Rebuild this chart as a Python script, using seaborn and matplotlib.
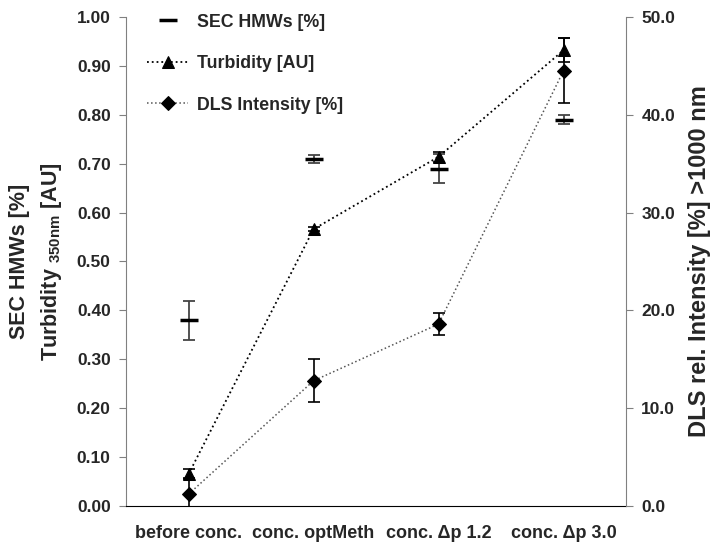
import numpy as np
import pandas as pd
import matplotlib
matplotlib.use('Agg')
import matplotlib.pyplot as plt
import seaborn as sns

# data
categories = ['before conc.', 'conc. optMeth', 'conc. Δp 1.2', 'conc. Δp 3.0']
sec_hmw = [0.38, 0.71, 0.69, 0.79]
sec_err = [0.04, 0.008, 0.03, 0.009]
turbidity = [0.065, 0.566, 0.714, 0.932]
turb_err = [0.01, 0.004, 0.01, 0.025]
dls = [1.2, 12.8, 18.6, 44.5]
dls_err = [1.7, 2.2, 1.1, 3.3]

sns.set_style('white')
plt.rcParams['font.family'] = ['Liberation Sans', 'DejaVu Sans']
plt.rcParams['font.weight'] = 'bold'
plt.rcParams['axes.labelweight'] = 'bold'
plt.rcParams['mathtext.fontset'] = 'custom'
plt.rcParams['mathtext.rm'] = 'Liberation Sans:bold'

df = pd.DataFrame({'x': np.arange(len(categories)), 'sec': sec_hmw,
                   'turb': turbidity, 'dls': dls})

fig, ax = plt.subplots(figsize=(7.18, 5.46), dpi=100)
fig.subplots_adjust(left=0.1755, right=0.8719, bottom=0.0733, top=0.9689)
ax2 = ax.twinx()

# SEC HMWs - bar marker only
ax.errorbar(df['x'], df['sec'], yerr=sec_err, fmt='none', ecolor='#444444',
            elinewidth=1.3, capsize=4.5, capthick=1.3, zorder=2)
sns.lineplot(data=df, x='x', y='sec', ax=ax, linestyle='none', marker='_',
             markersize=13, markeredgewidth=2.5, color='black',
             markeredgecolor='black', legend=False,
             label='SEC HMWs [%]', zorder=3)

# Turbidity
ax.errorbar(df['x'], df['turb'], yerr=turb_err, fmt='none', ecolor='black',
            elinewidth=1.2, capsize=4.5, capthick=1.2, zorder=2)
sns.lineplot(data=df, x='x', y='turb', ax=ax, color='black', linestyle=':',
             linewidth=1.3, marker='^', markersize=9, markeredgecolor='black',
             legend=False, label='Turbidity [AU]', zorder=3)

# DLS on right axis
ax2.errorbar(df['x'], df['dls'], yerr=dls_err, fmt='none', ecolor='black',
             elinewidth=1.2, capsize=4.5, capthick=1.2, zorder=2)
sns.lineplot(data=df, x='x', y='dls', ax=ax2, color='#555555', linestyle=':',
             linewidth=1.1, marker='D', markersize=7, markerfacecolor='black',
             markeredgecolor='black', legend=False, label='DLS Intensity [%]',
             zorder=3)

ax.set_xlim(-0.5, len(categories) - 0.5)
ax.set_ylim(0, 1.0)
ax2.set_ylim(0, 50)
ax.set_yticks(np.arange(0, 1.01, 0.1))
ax2.set_yticks(np.arange(0, 50.1, 10))
ax.yaxis.set_major_formatter(matplotlib.ticker.FormatStrFormatter('%.2f'))
ax2.yaxis.set_major_formatter(matplotlib.ticker.FormatStrFormatter('%.1f'))
ax.set_xticks(df['x'])
ax.set_xticklabels(categories)

ax.tick_params(axis='x', length=0, pad=14, labelsize=13)
ax.tick_params(axis='y', direction='out', length=5, color='#808080',
               labelsize=12.5, pad=6, left=True)
ax2.tick_params(axis='y', direction='out', length=5, color='#808080',
                labelsize=12.5, pad=6, right=True)

for a in (ax, ax2):
    a.spines['top'].set_visible(False)
ax.spines['right'].set_visible(False)
ax2.spines['left'].set_visible(False)
ax2.spines['bottom'].set_visible(False)
ax.spines['left'].set_color('#808080')
ax2.spines['right'].set_color('#808080')
ax.spines['bottom'].set_color('black')

ax.set_xlabel('')
ax.set_ylabel('SEC HMWs [%]\nTurbidity $_{\\mathrm{350nm}}$ [AU]', fontsize=15.5,
              linespacing=1.5, labelpad=9)
ax2.set_ylabel('DLS rel. Intensity [%] >1000 nm', fontsize=17, labelpad=9)

h1, l1 = ax.get_legend_handles_labels()
h2, l2 = ax2.get_legend_handles_labels()
ax2.legend(h1 + h2, l1 + l2, loc='upper left', frameon=False,
           bbox_to_anchor=(0.205, 0.975), bbox_transform=fig.transFigure,
           borderpad=0, borderaxespad=0, handlelength=2.3,
           handletextpad=0.5, labelspacing=1.38, fontsize=12.8)

plt.savefig('out.png', dpi=100)
